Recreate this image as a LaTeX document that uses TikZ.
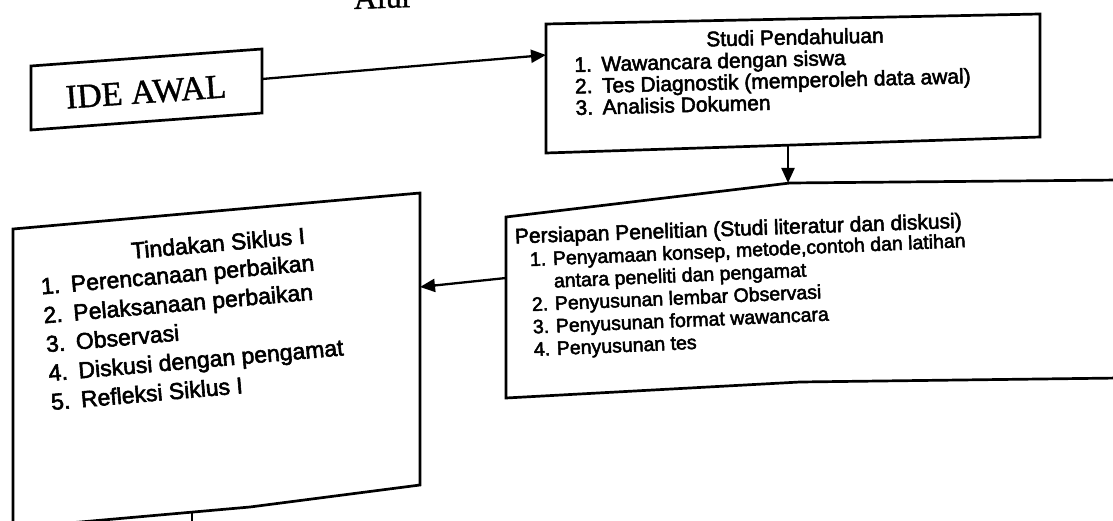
\documentclass[tikz,border=0pt]{standalone}
\usepackage{fontspec}
\setmainfont{Liberation Sans}[FakeBold=2.5]
\newfontfamily\serifont{Liberation Serif}[FakeBold=1.2]
\usetikzlibrary{arrows.meta}
\newcommand\numlab[2]{\makebox[#1][l]{#2}}
\begin{document}
\begin{tikzpicture}[x=1pt,y=-1pt,
  boxline/.style={line width=2.7pt, line join=miter},
  conn/.style={line width=2.3pt, -{Triangle[length=15pt,width=13pt]}},
  plainline/.style={line width=2.3pt},
  txt/.style={inner sep=0pt, outer sep=0pt, align=left, text=black},
  mid/.style={font=\fontsize{21}{21.5}\selectfont},
  small/.style={font=\fontsize{19.5}{22.5}\selectfont},
  big/.style={font=\fontsize{23}{29}\selectfont},
]
\clip (0,0) rectangle (1113,521);
\fill[white] (0,0) rectangle (1113,521);

% partially visible heading
\node[txt, anchor=base west, font=\serifont\fontsize{32}{32}\selectfont, rotate=2] (heading) at (354,9) {Alur};

% IDE AWAL
\coordinate (ide-nw) at (31,66);
\coordinate (ide-ne) at (262,49);
\coordinate (ide-se) at (262,113);
\coordinate (ide-sw) at (31,130);
\draw[boxline] (ide-nw) -- (ide-ne) -- (ide-se) -- (ide-sw) -- cycle;
\node[txt, font=\serifont\fontsize{34}{34}\selectfont, rotate=4] (ide) at (146,92) {IDE AWAL};

% Studi Pendahuluan
\coordinate (studi-nw) at (546,24);
\coordinate (studi-ne) at (1040,14);
\coordinate (studi-se) at (1040,137);
\coordinate (studi-sw) at (546,153);
\draw[boxline] (studi-nw) -- (studi-ne) -- (studi-se) -- (studi-sw) -- cycle;
\node[txt, mid, rotate=1.2] (studiT) at (795,37) {Studi Pendahuluan};
\node[txt, mid, anchor=west, rotate=1.5] (studiL) at (575,86)
  {\numlab{27pt}{1.}Wawancara dengan siswa\\
   \numlab{27pt}{2.}Tes Diagnostik (memperoleh data awal)\\
   \numlab{27pt}{3.}Analisis Dokumen};

% Persiapan Penelitian
\coordinate (pers-nw) at (506,217);
\coordinate (pers-sw) at (506,398);
\draw[boxline] (1120,180) -- (790,183) -- (pers-nw) -- (pers-sw) -- (800,382) -- (1120,378);
\node[txt, mid, anchor=west, rotate=2] (persT) at (515,238) {Persiapan Penelitian (Studi literatur dan diskusi)};
\node[txt, small, anchor=west, rotate=2.5] (persL) at (532,306)
  {\numlab{23pt}{1.}Penyamaan konsep, metode,contoh dan latihan\\
   \hspace*{23pt}antara peneliti dan pengamat\\
   \numlab{23pt}{2.}Penyusunan lembar Observasi\\
   \numlab{23pt}{3.}Penyusunan format wawancara\\
   \numlab{23pt}{4.}Penyusunan tes};

% Tindakan Siklus I
\coordinate (tind-nw) at (13,229);
\coordinate (tind-ne) at (420,193);
\coordinate (tind-se) at (420,485);
\draw[boxline] (13,540) -- (tind-nw) -- (tind-ne) -- (tind-se) -- (250,507) -- (-10,530);
\node[txt, big, rotate=5] (tindT) at (218,243) {Tindakan Siklus I};
\node[txt, big, anchor=west, rotate=5] (tindL) at (46,344)
  {\numlab{30pt}{1.}Perencanaan perbaikan\\
   \numlab{30pt}{2.}Pelaksanaan perbaikan\\
   \numlab{30pt}{3.}Observasi\\
   \numlab{30pt}{4.}Diskusi dengan pengamat\\
   \numlab{30pt}{5.}Refleksi Siklus I};

% connectors
\coordinate (ide-e) at (262,79);
\coordinate (studi-w) at (546,55);
\draw[conn] (ide-e) -- (studi-w);
\coordinate (studi-s) at (788,145);
\coordinate (pers-n) at (788,183);
\draw[conn] (studi-s) -- (pers-n);
\coordinate (pers-w) at (506,278);
\coordinate (tind-e) at (420,287);
\draw[conn] (pers-w) -- (tind-e);
\coordinate (tind-s) at (192,511);
\coordinate (tind-out) at (192,530);
\draw[plainline] (tind-s) -- (tind-out);
\end{tikzpicture}
\end{document}
